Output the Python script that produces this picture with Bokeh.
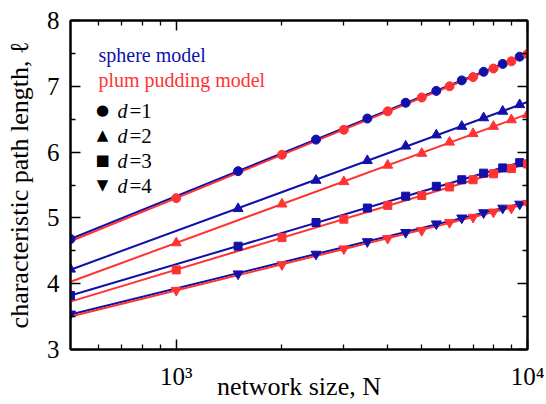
import numpy as np
from bokeh.plotting import figure
from bokeh.models import FixedTicker, LogAxis, LinearAxis, Label, CustomJSTickFormatter
from bokeh.embed import file_html
from bokeh.resources import INLINE

# ---------------- data ----------------
N_sphere = [500, 1500, 2500, 3500, 4500, 5500, 6500, 7500, 8500, 9500]
N_plum = [1000, 2000, 3000, 4000, 5000, 6000, 7000, 8000, 9000, 10000]

sphere_d1 = [4.68, 5.71, 6.19, 6.51, 6.75, 6.93, 7.09, 7.22, 7.34, 7.45]
plum_d1 = [5.30, 5.96, 6.34, 6.62, 6.83, 7.00, 7.14, 7.27, 7.38, 7.49]
sphere_d2 = [4.22, 5.14, 5.57, 5.87, 6.09, 6.26, 6.39, 6.52, 6.62, 6.72]
plum_d2 = [4.62, 5.21, 5.55, 5.80, 5.98, 6.15, 6.28, 6.39, 6.49, 6.57]
sphere_d3 = [3.82, 4.57, 4.93, 5.15, 5.33, 5.48, 5.58, 5.68, 5.76, 5.84]
plum_d3 = [4.21, 4.70, 4.98, 5.19, 5.34, 5.47, 5.58, 5.67, 5.75, 5.82]
sphere_d4 = [3.54, 4.15, 4.45, 4.64, 4.78, 4.91, 5.00, 5.08, 5.15, 5.21]
plum_d4 = [3.90, 4.29, 4.53, 4.69, 4.81, 4.93, 5.01, 5.09, 5.15, 5.22]

fit_N = [500, 10000]  # domain of the fitted lines

x_ticks = [1000, 10000]
x_tick_labels = ["10³", "10⁴"]
x_minor = [600, 700, 800, 900, 2000, 3000, 4000, 5000, 6000, 7000, 8000, 9000]
y_ticks = [3, 4, 5, 6, 7, 8]
y_minor = [3.5, 4.5, 5.5, 6.5, 7.5]

x_label = "network size, N"
y_label = "characteristic path length, ℓ"
model_names = ["sphere model", "plum pudding model"]
d_values = ["1", "2", "3", "4"]
markers = ["circle", "triangle", "square", "inverted_triangle"]
marker_chars = ["●", "▲", "■", "▼"]
marker_sizes = [9, 10, 8, 10]

BLUE = "#1111aa"
RED = "#ff3333"
SERIF = "Liberation Serif"

# ---------------- figure ----------------
p = figure(width=546, height=404, x_axis_type="log", x_range=(500, 10000), y_range=(3, 8),
           output_backend="svg", toolbar_location=None,
           min_border_left=70, min_border_right=19, min_border_top=20, min_border_bottom=55)
p.grid.visible = False
p.outline_line_color = "black"
p.outline_line_width = 2
p.background_fill_color = "white"
p.border_fill_color = "white"

xfmt = CustomJSTickFormatter(args=dict(v=x_ticks, l=x_tick_labels),
                             code="for (let i = 0; i < v.length; i++) { if (Math.abs(v[i] - tick) < 1e-6 * v[i]) return l[i]; } return '';")
blank = CustomJSTickFormatter(code="return '';")

def style(ax, labels=True):
    ax.major_tick_in = 10
    ax.major_tick_out = 0
    ax.minor_tick_in = 5
    ax.minor_tick_out = 0
    ax.major_tick_line_width = 1.5
    ax.minor_tick_line_width = 1.3
    ax.axis_line_width = 2
    ax.major_tick_line_color = "black"
    ax.minor_tick_line_color = "black"
    ax.axis_line_color = "black"
    ax.major_label_text_font = SERIF
    ax.major_label_text_font_size = "25px"
    ax.major_label_text_color = "black"
    ax.axis_label_text_font = SERIF
    ax.axis_label_text_font_size = "26px"
    ax.axis_label_text_font_style = "normal"
    ax.axis_label_text_color = "black"
    if not labels:
        ax.formatter = blank
        ax.major_label_standoff = 0

p.xaxis.ticker = FixedTicker(ticks=x_ticks, minor_ticks=x_minor)
p.xaxis.formatter = xfmt
p.yaxis.ticker = FixedTicker(ticks=y_ticks, minor_ticks=y_minor)
style(p.xaxis[0])
style(p.yaxis[0])
p.xaxis.major_label_standoff = 13
p.yaxis.major_label_standoff = 11
p.xaxis.axis_label = x_label
p.xaxis.axis_label_standoff = -21
p.yaxis.axis_label = y_label
p.yaxis.axis_label_standoff = 10

top = LogAxis(ticker=FixedTicker(ticks=x_ticks, minor_ticks=x_minor))
style(top, labels=False)
p.add_layout(top, "above")
right = LinearAxis(ticker=FixedTicker(ticks=y_ticks, minor_ticks=y_minor))
style(right, labels=False)
p.add_layout(right, "right")

# ---------------- fitted lines ----------------
sphere = [sphere_d1, sphere_d2, sphere_d3, sphere_d4]
plum = [plum_d1, plum_d2, plum_d3, plum_d4]
lx = np.log10(np.array(fit_N, dtype=float))
for ys in sphere:
    c = np.polyfit(np.log10(N_sphere), ys, 1)
    p.line(fit_N, np.polyval(c, lx), line_color=BLUE, line_width=2)
for ys in plum:
    c = np.polyfit(np.log10(N_plum), ys, 1)
    p.line(fit_N, np.polyval(c, lx), line_color=RED, line_width=2)

# ---------------- markers ----------------
for ys, m, s in zip(sphere, markers, marker_sizes):
    p.scatter(N_sphere, ys, marker=m, size=s, fill_color=BLUE, line_color=BLUE)
for ys, m, s in zip(plum, markers, marker_sizes):
    p.scatter(N_plum, ys, marker=m, size=s, fill_color=RED, line_color=RED)

# ---------------- legend (screen units relative to the frame: left=70, bottom=349) ----------------
FL, FB = 70, 349

def lab(cx, cy, text, **kw):
    opts = dict(text_font=SERIF, text_font_size="20px", text_color="black",
                text_baseline="alphabetic", text_align="left")
    opts.update(kw)
    p.add_layout(Label(x=cx - FL, y=FB - cy, x_units="screen", y_units="screen", text=text, **opts))

lab(98, 54, model_names[0], text_color=BLUE)
lab(98, 79, model_names[1], text_color=RED)
for i, (ch, dv) in enumerate(zip(marker_chars, d_values)):
    base = 110 + 25 * i
    lab(102, base - 1, ch, text_font="DejaVu Sans", text_font_size="15px", text_align="center")
    lab(117, base, "d", text_font_style="italic")
    lab(129, base, "=" + dv, text_font_size="21px")

open("out.html", "w").write(file_html(p, INLINE))
